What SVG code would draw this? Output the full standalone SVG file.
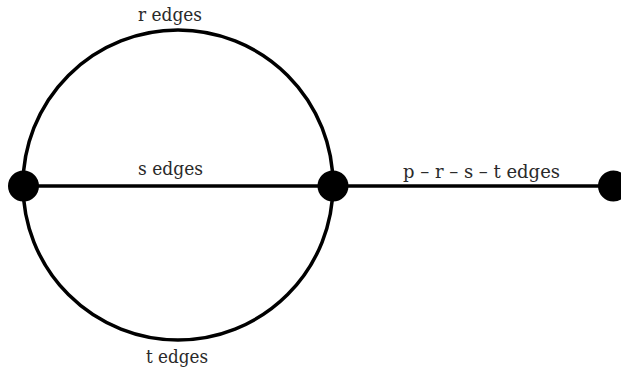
<svg xmlns="http://www.w3.org/2000/svg" width="621" height="371" viewBox="0 0 621 371">
<style>
.edge{fill:none;stroke:#000;stroke-width:3.5}
.node{fill:#000}
.lbl{font-size:18px;fill:#2a2a2a;text-anchor:middle}
</style>
<rect width="621" height="371" fill="#fff"/>
<g id="connectors">
<ellipse class="edge" cx="178" cy="185" rx="155" ry="155"/>
<line class="edge" x1="23" y1="186" x2="333" y2="186"/>
<line class="edge" x1="333" y1="186" x2="613" y2="186"/>
</g>
<g id="labels" font-family="'DejaVu Serif', 'Liberation Serif', serif">
<text class="lbl" x="170" y="21" textLength="64" lengthAdjust="spacingAndGlyphs">r edges</text>
<text class="lbl" x="170.5" y="175" textLength="65" lengthAdjust="spacingAndGlyphs">s edges</text>
<text class="lbl" x="177" y="363" textLength="62" lengthAdjust="spacingAndGlyphs">t edges</text>
<text class="lbl" x="481.5" y="177.5" textLength="157" lengthAdjust="spacingAndGlyphs">p – r – s – t edges</text>
</g>
<g id="node-left"><circle class="node" cx="23.5" cy="186" r="15.5"/></g>
<g id="node-mid"><circle class="node" cx="333" cy="186" r="15.5"/></g>
<g id="node-right"><circle class="node" cx="613.5" cy="186" r="15.5"/></g>
</svg>
